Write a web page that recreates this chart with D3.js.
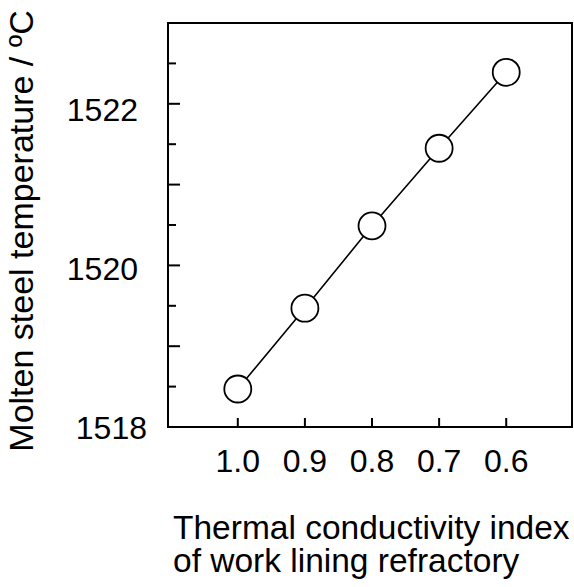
<!DOCTYPE html>
<html>
<head>
<meta charset="utf-8">
<script src="https://cdn.jsdelivr.net/npm/d3@7"></script>
<style>
  body { margin: 0; background: #fff; }
  text { font-family: "Liberation Sans", Arial, sans-serif; fill: #000; }
</style>
</head>
<body>
<svg id="chart"></svg>
<script>
const indexValues = [1.0, 0.9, 0.8, 0.7, 0.6];
const temperatures = [1518.47, 1519.47, 1520.49, 1521.45, 1522.39];
const xTickValues = [1.0, 0.9, 0.8, 0.7, 0.6];
const yMajorTicks = [1518, 1519, 1520, 1521, 1522];
const yMinorTicks = [1518.5, 1519.5, 1520.5, 1521.5, 1522.5];
const yLabelTicks = [1518, 1520, 1522];
const xTitleLines = ["Thermal conductivity index", "of work lining refractory"];

const width = 574;
const height = 587;
const margin = { top: 23, right: 2, bottom: 160, left: 168 };

const svg = d3.select("#chart")
  .attr("width", width)
  .attr("height", height);

const xScale = d3.scaleLinear()
  .domain([1.104, 0.502])
  .range([margin.left, width - margin.right]);

const yScale = d3.scaleLinear()
  .domain([1518, 1523])
  .range([height - margin.bottom, margin.top]);

// the tick labels in the original sit a bit off the ticks, so they get their own scale
const yLabelScale = d3.scaleLinear()
  .domain([1518, 1522])
  .range([439, 121]);

const x0 = xScale.range()[0], x1 = xScale.range()[1];
const y0 = yScale.range()[0], y1 = yScale.range()[1];

// frame
svg.append("rect")
  .attr("x", x0)
  .attr("y", y1)
  .attr("width", x1 - x0)
  .attr("height", y0 - y1)
  .attr("fill", "none")
  .attr("stroke", "#000")
  .attr("stroke-width", 2);

// x ticks point inward
svg.append("g")
  .selectAll("line")
  .data(xTickValues)
  .join("line")
  .attr("x1", d => xScale(d))
  .attr("x2", d => xScale(d))
  .attr("y1", y0)
  .attr("y2", y0 - 9)
  .attr("stroke", "#000")
  .attr("stroke-width", 2);

svg.append("g")
  .selectAll("text")
  .data(xTickValues)
  .join("text")
  .attr("x", d => xScale(d))
  .attr("y", y0 + 45)
  .attr("text-anchor", "middle")
  .attr("font-size", 32)
  .text(d => d.toFixed(1));

// y ticks
svg.append("g")
  .selectAll("line")
  .data(yMajorTicks)
  .join("line")
  .attr("x1", x0)
  .attr("x2", x0 + 12)
  .attr("y1", d => yScale(d))
  .attr("y2", d => yScale(d))
  .attr("stroke", "#000")
  .attr("stroke-width", 2);

svg.append("g")
  .selectAll("line")
  .data(yMinorTicks)
  .join("line")
  .attr("x1", x0)
  .attr("x2", x0 + 8)
  .attr("y1", d => yScale(d))
  .attr("y2", d => yScale(d))
  .attr("stroke", "#000")
  .attr("stroke-width", 2);

svg.append("g")
  .selectAll("text")
  .data(yLabelTicks)
  .join("text")
  .attr("x", d => d === 1518 ? x0 - 21 : x0 - 30)
  .attr("y", d => yLabelScale(d))
  .attr("text-anchor", "end")
  .attr("font-size", 32)
  .text(d => d);

// axis titles
svg.append("text")
  .attr("transform", "rotate(-90)")
  .attr("x", -231)
  .attr("y", 33)
  .attr("text-anchor", "middle")
  .attr("font-size", 34)
  .text("Molten steel temperature / ºC");

svg.append("g")
  .selectAll("text")
  .data(xTitleLines)
  .join("text")
  .attr("x", 173)
  .attr("y", (d, i) => 538.5 + i * 33.5)
  .attr("font-size", 33.5)
  .text(d => d);

// line + markers
const points = indexValues.map((v, i) => ({ x: v, y: temperatures[i] }));

svg.append("path")
  .datum(points)
  .attr("fill", "none")
  .attr("stroke", "#000")
  .attr("stroke-width", 1.6)
  .attr("d", d3.line().x(d => xScale(d.x)).y(d => yScale(d.y)));

svg.append("g")
  .selectAll("circle")
  .data(points)
  .join("circle")
  .attr("cx", d => xScale(d.x))
  .attr("cy", d => yScale(d.y))
  .attr("r", 13.5)
  .attr("fill", "#fff")
  .attr("stroke", "#000")
  .attr("stroke-width", 1.8);
</script>
</body>
</html>
